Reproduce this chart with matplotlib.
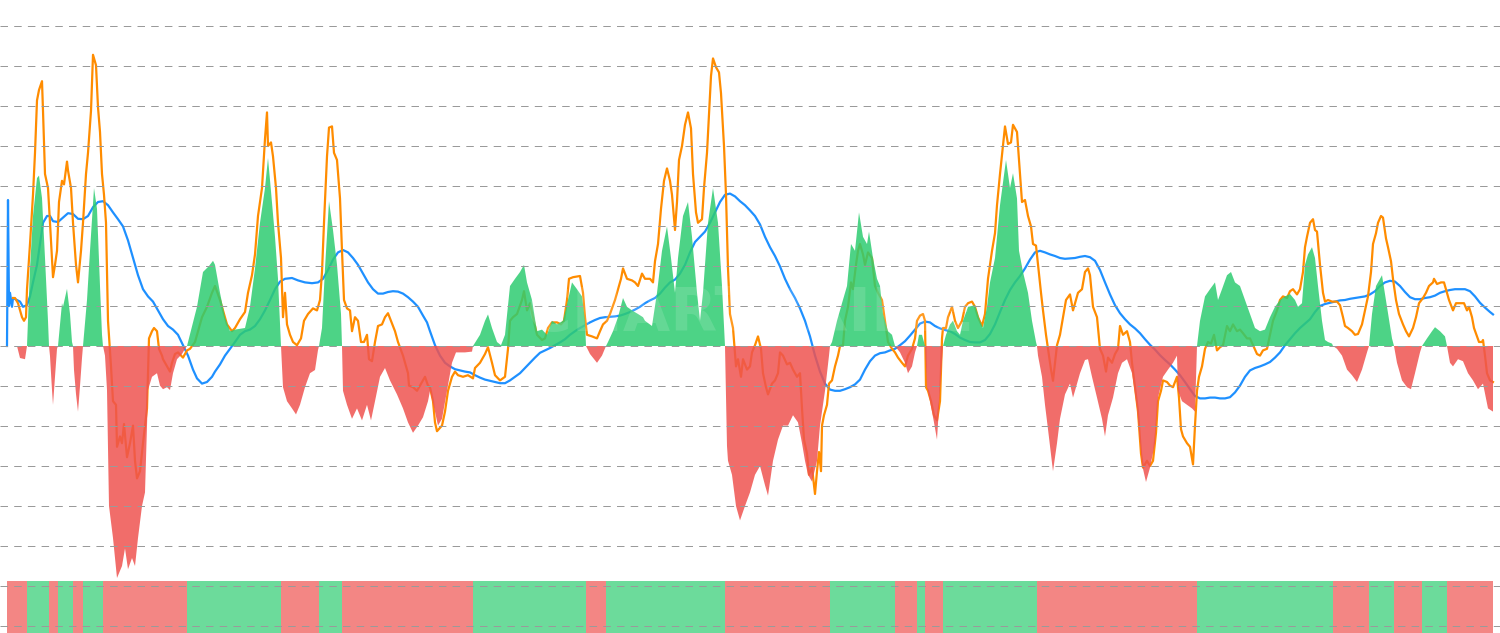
import numpy as np
import matplotlib
matplotlib.use('Agg')
import matplotlib.pyplot as plt

# ── data (bar index, value) ──────────────────────────────────────────────────
hist_x = [7, 17, 20, 25, 27, 30, 33, 37, 39, 42, 45, 48, 49,
          50, 52, 53, 55, 57, 58, 62, 63, 67, 70, 72, 73,
          74, 76, 78, 80, 82, 83, 87, 90, 94, 97, 100, 102, 103,
          105, 107, 109, 113, 117, 122, 125, 128, 132, 135, 138, 142, 145, 147, 148,
          152, 157, 160, 163, 167, 170, 173, 177, 182, 185, 187,
          197, 203, 209, 213, 215, 220, 225, 230, 235, 245, 250, 255, 260, 265, 268,
          271, 275, 278, 281,
          283, 287, 292, 296, 300, 305, 310, 315, 318, 319,
          322, 325, 329, 333, 337, 341, 342,
          343, 347, 352, 357, 362, 367, 371, 375, 380, 385, 390, 397, 403, 408, 413,
          418, 423, 428, 430, 435, 438, 442, 447, 452, 456, 465, 472, 473,
          480, 485, 488, 492, 497, 501, 505, 510, 515, 520, 524, 527, 532, 537, 542,
          547, 552, 557, 563, 568, 572, 577, 582, 585, 586,
          590, 597, 602, 606,
          608, 613, 618, 623, 627, 632, 638, 643, 645, 652, 657, 662, 667, 671, 675,
          678, 683, 688, 692, 697, 700, 703, 708, 713, 718, 722, 725,
          727, 728, 732, 736, 740, 745, 750, 755, 760, 765, 768, 773, 778, 783, 788,
          793, 798, 802, 805, 808, 812, 817, 820, 825, 829, 830,
          832, 837, 842, 847, 851, 855, 859, 863, 867, 869, 873, 877, 880, 883, 888,
          892, 895,
          900, 905, 908, 912, 915, 917,
          919, 922, 925,
          927, 930, 934, 937, 940, 943,
          946, 950, 953, 957, 960, 963, 968, 975, 980, 983, 987, 990, 995, 1000, 1006,
          1010, 1013, 1017, 1019, 1023, 1028, 1032, 1036, 1037,
          1038, 1042, 1045, 1048, 1053, 1057, 1060, 1065, 1070, 1073, 1075, 1080, 1085,
          1088, 1092, 1097, 1102, 1105, 1108, 1113, 1118, 1122, 1127, 1132, 1137, 1142,
          1146, 1150, 1155, 1158, 1163, 1168, 1173, 1177, 1178, 1182, 1187, 1192, 1195,
          1197,
          1200, 1205, 1210, 1215, 1218, 1222, 1227, 1231, 1235, 1240, 1245, 1250, 1255,
          1260, 1265, 1270, 1275, 1280, 1285, 1290, 1295, 1298, 1302, 1305, 1308, 1312,
          1315, 1318, 1322, 1325, 1328, 1332, 1333,
          1337, 1342, 1347, 1352, 1357, 1362, 1367, 1369,
          1372, 1376, 1382, 1387, 1392, 1394,
          1397, 1402, 1407, 1411, 1415, 1420, 1422,
          1427, 1432, 1435, 1440, 1445, 1447,
          1450, 1453, 1458, 1463, 1468, 1473, 1478, 1483, 1488, 1493]
hist_v = [0, 0, -3, -3.3, 0, 19.4, 32.5, 42, 42.6, 37, 22, 6.3, 0,
          -2.5, -11, -14.7, -7.7, -0.7, 0, 10.7, 9.8, 14.3, 8, 1, 0,
          -6, -12, -16.4, -10, -3, 0, 11.5, 23.8, 39.5, 34.3, 15, 2.8, 0,
          -2.4, -11, -40, -48, -58, -55, -50.6, -55.8, -53, -55, -48, -40, -36.6, -20, -11,
          -7.7, -6.8, -9.9, -10.8, -10.3, -11, -6.8, -3.3, -2, -0.7, 0,
          9.8, 18.5, 20, 21.3, 20.3, 13.3, 7.2, 3.7, 4.1, 4.5, 9.8, 19.4, 30.8, 39.5, 47,
          38.7, 27.3, 16.8, 0,
          -10.3, -13.8, -15.6, -17.1, -14.7, -10.3, -6.8, -6, -1, 0,
          4.5, 19.4, 36.2, 29, 20.3, 8, 0,
          -11.2, -14.7, -18.2, -15.6, -18.6, -14.7, -18.6, -13.8, -7.7, -5.5, -8.6, -12.1, -15.6, -19.1, -21.7,
          -19.9, -17.8, -13.8, -11.2, -16.4, -19.9, -18.2, -11.2, -4.2, -1.6, -1.6, -1.4, 0,
          2.8, 6.3, 7.9, 4.5, 1, 0.2, 2.8, 15, 16.8, 18.5, 20.3, 15.9, 11.5, 3.7, 4.1,
          2.8, 6.3, 5.4, 6.3, 11.5, 15.9, 14.2, 12.4, 6.3, 0,
          -2, -4.2, -2.4, 0,
          1, 3.7, 7.2, 12, 9.8, 8.9, 8, 7.2, 6.3, 5, 13.3, 23.8, 29.9, 22, 13.3,
          22, 32.5, 36, 27.3, 13.3, 6.3, 13.3, 30.8, 39.5, 30.8, 15, 0,
          -25, -28.7, -32.2, -40, -43.6, -40, -36.6, -32.2, -30, -34.8, -37.4, -28.7, -23.4, -19.9, -19.9,
          -17.3, -19.1, -24.3, -28.7, -32.2, -33.9, -28.7, -19.9, -11.2, -2.4, 0,
          1, 6.3, 10.7, 15, 25.5, 23.8, 33.4, 27.3, 25.5, 28.6, 22, 16.8, 15, 8, 3.7,
          2.8, 0,
          -1.6, -4.2, -6.8, -5.1, -1.6, 0,
          2.8, 2.8, 0,
          -10.3, -13.8, -19.1, -23.4, -11.2, 0,
          2.8, 5.4, 6.3, 3.7, 2.8, 6.3, 9.8, 10.2, 6.3, 4.5, 9.8, 15.9, 22, 35.2, 46.5,
          39.5, 43.2, 36.9, 23.8, 18.5, 13.3, 6.3, 1, 0,
          -2.4, -7.7, -14.7, -20.8, -31.3, -24.3, -18.2, -12.1, -9.4, -12.9, -11.2, -6.8, -3.5,
          -3.3, -7.7, -12.9, -18.2, -22.6, -17.3, -12.9, -6.8, -4.2, -3.3, -6.8, -15.6, -29.6,
          -34, -30.4, -24.3, -12.9, -7.7, -5.9, -4.2, -2.4, -11.2, -13.8, -14.7, -15.6, -16.4,
          0,
          6.3, 12.4, 14.2, 15.9, 11.5, 14.2, 17.7, 18.5, 15.9, 15, 11.5, 8, 4.5,
          3.7, 4.1, 7.2, 9.8, 11.5, 12.4, 13, 11.5, 9.8, 10.7, 20.3, 22.9, 24.7,
          22, 15, 6.3, 1.5, 1, 0.6, 0,
          -0.7, -2.4, -5.9, -7.3, -9, -5.9, -1.6, 0,
          8, 15, 17.7, 9.8, 1.9, 0,
          -4.2, -8.6, -10.3, -10.8, -6.8, -1.6, 0,
          1.9, 3.7, 4.7, 3.7, 2.4, 0,
          -4.2, -5.1, -3.3, -3.8, -6.8, -8.6, -10.8, -9.4, -15.6, -16.4]

fast_x = [13, 15, 18, 22, 24, 26, 27, 30, 33, 35, 37, 39, 42, 43, 45, 48, 50, 53, 55, 57,
          59, 62, 64, 67, 68, 71, 73, 76, 78, 81, 83, 86, 88, 91, 93, 96, 98, 100, 102,
          104, 106, 108, 111, 113, 116, 117, 120, 122, 124, 127, 130, 133, 135, 137, 140,
          143, 147, 149, 152, 154, 157, 159, 162, 163, 167, 170, 172, 175, 178, 183, 187,
          190, 195, 198, 202, 207, 212, 215, 220, 227, 232, 235, 240, 245, 248, 252, 255,
          258, 262, 265, 267, 268, 271, 273, 276, 278, 281, 283, 285, 287, 290, 293, 297,
          301, 304, 308, 313, 317, 320, 322, 324, 327, 329, 332, 334, 337, 340, 342, 344,
          347, 350, 352, 355, 358, 361, 364, 367, 369, 372, 375, 378, 382, 385, 388, 391,
          395, 398, 403, 408, 409, 413, 417, 422, 425, 428, 430, 433, 435, 437, 442, 445,
          448, 452, 455, 458, 463, 468, 473, 475, 480, 485, 488, 492, 495, 500, 505, 508,
          510, 513, 517, 522, 524, 527, 530, 533, 537, 542, 545, 548, 552, 557, 561, 564,
          567, 569, 573, 580, 583, 585, 587, 592, 597, 600, 603, 607, 610, 615, 618, 621,
          623, 627, 632, 635, 638, 642, 645, 650, 653, 655, 658, 661, 664, 667, 670, 672,
          675, 677, 679, 682, 685, 688, 691, 693, 696, 698, 702, 704, 707, 709, 711, 713,
          716, 719, 721, 722, 724, 726, 728, 730, 733, 736, 738, 741, 743, 747, 750, 752,
          755, 758, 761, 763, 766, 768, 772, 775, 778, 780, 783, 787, 790, 793, 797, 800,
          802, 804, 807, 809, 812, 815, 817, 819, 821, 822, 824, 827, 829, 832, 835, 838,
          840, 843, 845, 848, 851, 853, 856, 858, 860, 863, 865, 868, 872, 875, 878, 882,
          885, 888, 892, 895, 898, 902, 905, 908, 912, 915, 917, 920, 923, 925, 926, 928,
          931, 934, 937, 940, 942, 943, 946, 948, 952, 955, 958, 962, 965, 968, 972, 975,
          978, 982, 985, 988, 992, 995, 997, 1000, 1003, 1005, 1008, 1011, 1013, 1017,
          1019, 1022, 1025, 1028, 1031, 1033, 1036, 1038, 1041, 1043, 1046, 1048, 1051,
          1053, 1055, 1057, 1060, 1063, 1066, 1070, 1073, 1075, 1078, 1082, 1085, 1088,
          1090, 1093, 1097, 1100, 1103, 1106, 1108, 1112, 1115, 1118, 1120, 1123, 1127,
          1130, 1132, 1135, 1138, 1141, 1143, 1147, 1150, 1153, 1156, 1158, 1161, 1163,
          1167, 1170, 1173, 1177, 1179, 1181, 1183, 1187, 1190, 1193, 1195, 1197, 1199,
          1202, 1205, 1208, 1211, 1214, 1217, 1220, 1223, 1227, 1230, 1233, 1237, 1240,
          1243, 1247, 1250, 1253, 1257, 1260, 1263, 1267, 1270, 1273, 1277, 1280, 1283,
          1287, 1290, 1293, 1297, 1300, 1303, 1305, 1307, 1310, 1313, 1315, 1317, 1320,
          1323, 1325, 1328, 1332, 1337, 1340, 1343, 1345, 1348, 1352, 1355, 1358, 1362,
          1365, 1368, 1371, 1373, 1376, 1378, 1381, 1383, 1386, 1388, 1391, 1393, 1396,
          1399, 1403, 1406, 1409, 1413, 1416, 1419, 1423, 1426, 1429, 1433, 1434, 1437,
          1441, 1444, 1447, 1449, 1453, 1456, 1460, 1464, 1467, 1469, 1472, 1474, 1477,
          1479, 1482, 1483, 1485, 1487, 1490, 1493]
fast_v = [12, 12, 10.7, 7.2, 6.3, 7.2, 14.2, 25.5, 37.8, 48.3, 61.4, 64, 66.2, 58.8, 43, 39.5,
          30.8, 17.2, 20.3, 23.8, 36, 41.3, 40.4, 46.1, 43.9, 39.5, 30.8, 20.3, 15.9, 23.8,
          30.8, 43, 48.3, 58.8, 72.8, 70.2, 59.7, 53.5, 43, 37.8, 30.8, 6.3, -5.1, -13.8,
          -14.7, -25.2, -22.6, -24.3, -19.5, -27.8, -24.3, -19.9, -28.7, -33.1, -31.3,
          -24.3, -15.6, 1.9, 3.7, 4.5, 3.7, -0.7, -2.4, -3.3, -5.1, -6.4, -4.2, -2, -1.6,
          -2.9, -1.1, -0.7, 1, 3.7, 7.2, 9.8, 13.3, 15, 11.5, 5.4, 3.7, 4.5, 6.7, 8.5,
          13.3, 17.7, 22.9, 32.5, 39.5, 51.8, 58.4, 50, 50.9, 47.4, 39.5, 30.8, 22, 7.2,
          13.3, 5.4, 2.8, 1, 0.2, 1.9, 6.3, 8, 9.4, 8.9, 11.5, 18.5, 30.8, 47.4, 54.6,
          54.9, 48.3, 46.5, 36.9, 23.8, 11.5, 9.4, 8.9, 3.7, 7.2, 6.3, 1, 1, 2.8, -3.3,
          -3.8, 1, 5, 5.4, 7.2, 8.2, 6.3, 3.7, 1, -2.4, -6.8, -9.9, -10.3, -11.2, -9,
          -7.7, -9.9, -10.3, -13.8, -19.1, -21.3, -19.9, -16.4, -11.2, -7.7, -6.4, -7.3,
          -7.7, -7.3, -8.1, -5.5, -4.2, -2, -0.3, -4.2, -7.3, -8.6, -7.7, -0.7, 6.3, 7.2,
          8, 11.5, 13.7, 8.9, 10.7, 7.2, 2.8, 1.5, 1.9, 4.5, 5.9, 5.9, 5.4, 6.3, 11.5,
          16.8, 17.2, 17.5, 13.3, 7.2, 2.8, 2.4, 1.9, 3.7, 5.4, 6.3, 8, 11.5, 14.2, 16.8,
          19.4, 16.8, 16.4, 15.9, 15, 18.1, 16.8, 16.8, 15.9, 21.2, 25.5, 34.3, 41.3,
          44.4, 41.3, 37.8, 29, 36, 46.5, 50, 55.3, 58.4, 54.4, 43, 33.4, 30.8, 31.7,
          39.5, 48.3, 57.9, 67.5, 71.9, 69.7, 68.4, 63.2, 58.8, 50, 37.8, 19.4, 8, 4.5,
          -5.1, -3.3, -7.7, -3.3, -5.9, -5.1, -1.6, 0.2, 2.4, -0.7, -6.8, -10.3, -12.1,
          -9.4, -8.6, -6.8, -1.6, -2.4, -4.6, -4.2, -5.9, -7.7, -6.8, -15.6, -23.4, -26.9,
          -32.2, -30.4, -37, -31.3, -26.5, -31.3, -19.9, -17.3, -14.7, -9.4, -8.6, -5.1,
          -2.4, 0, 0.2, 6.3, 9.8, 15.9, 14.2, 20.3, 23.8, 25.5, 22.9, 20.3, 23.4, 22,
          15, 13.3, 11.5, 6.3, 1, -0.7, -1.6, -2.9, -4.2, -5.1, -2.4, -0.7, 1.9, 6.3, 7.6,
          8, 6.3, -10.3, -11.2, -13.8, -17.3, -18.6, -13.8, 1.9, 4.5, 4.5, 7.2, 9.8, 6.3,
          4.5, 6.3, 9.8, 10.7, 11.1, 9.8, 7.2, 5, 8, 16.8, 23.8, 28.2, 35.2, 43, 50, 54.9,
          50.5, 50.9, 55.3, 53.5, 46.5, 36, 36.5, 32.5, 29.9, 25.5, 25.1, 20.3, 13.3, 8.9,
          2.8, -0.7, -5.9, -8.7, -4.2, 0.2, 2.8, 7.2, 11.5, 12.9, 8.9, 10.7, 13.3, 14.2,
          18.5, 19.4, 17.7, 9.8, 7.2, -0.7, -2.4, -6.4, -2.9, -4.2, -2, -0.7, 5, 2.8, 3.7,
          1, -4.2, -10.3, -16.4, -26.9, -30.4, -28.7, -30, -28.7, -21.7, -13.8, -11.2,
          -8.6, -9, -9.9, -10.3, -7.7, -12.9, -20.8, -22.6, -24.3, -25.2, -29.6, -19.9,
          -11.2, -7.7, -5.1, -0.7, 1, 0.6, 2.8, -1.1, -0.3, 0.2, 5, 3.7, 5.4, 3.7, 4.1,
          3.2, 1.9, 1.9, 0.2, -2, -2.4, -1.1, -0.7, 2.8, 6.3, 8.9, 11.5, 12.4, 12, 13.7,
          14.2, 12.9, 14.2, 18.5, 24.7, 27.3, 30.8, 31.7, 29, 28.6, 20.3, 13.3, 11.1,
          11.5, 11.1, 11.1, 10.2, 7.2, 5, 4.5, 3.7, 2.8, 3, 5.4, 8.9, 12.4, 18.5, 25.5,
          28.2, 30.8, 32.5, 32.1, 26.9, 24.7, 21.2, 16.8, 11.5, 8, 5.4, 3.7, 2.4, 4.5,
          7.2, 10.7, 12, 13.3, 15, 15.9, 16.8, 15.5, 15.9, 15.9, 13.3, 11.5, 8.9, 10.7,
          10.7, 10.7, 8.9, 9.8, 7.2, 4.5, 2.4, 1, 1, 1.5, -2.4, -6.8, -8.6, -9]

slow_x = [7, 8, 9, 10, 12, 13, 17, 20, 23, 27, 30, 33, 37, 40, 43, 47, 50, 53, 58, 63, 68,
          73, 78, 83, 88, 93, 98, 103, 108, 113, 118, 123, 128, 133, 138, 143, 148, 153,
          158, 163, 168, 173, 178, 183, 188, 193, 197, 202, 207, 212, 215, 220, 225, 230,
          235, 240, 245, 250, 255, 260, 265, 270, 275, 280, 285, 292, 298, 305, 312, 318,
          323, 328, 333, 338, 343, 348, 353, 358, 363, 368, 373, 378, 383, 388, 393, 398,
          403, 408, 413, 418, 423, 427, 430, 435, 440, 445, 450, 455, 460, 465, 470, 475,
          480, 485, 490, 495, 500, 505, 510, 515, 520, 525, 530, 535, 540, 545, 550, 555,
          560, 565, 570, 575, 580, 585, 590, 595, 600, 605, 610, 615, 620, 625, 630, 635,
          640, 645, 650, 655, 660, 665, 670, 675, 680, 685, 690, 695, 700, 705, 710, 715,
          720, 725, 730, 735, 740, 745, 750, 755, 760, 765, 770, 775, 780, 785, 790, 795,
          800, 805, 810, 815, 820, 825, 830, 835, 840, 845, 850, 855, 860, 865, 870, 875,
          880, 885, 890, 895, 900, 905, 910, 915, 920, 925, 930, 935, 940, 945, 950, 955,
          960, 965, 970, 975, 980, 985, 990, 995, 1000, 1005, 1010, 1015, 1020, 1025,
          1030, 1035, 1040, 1045, 1050, 1055, 1060, 1065, 1070, 1075, 1080, 1085, 1090,
          1095, 1100, 1105, 1110, 1115, 1120, 1125, 1130, 1135, 1140, 1145, 1150, 1155,
          1160, 1165, 1170, 1175, 1180, 1185, 1190, 1195, 1200, 1205, 1210, 1215, 1220,
          1225, 1230, 1235, 1240, 1245, 1250, 1255, 1260, 1265, 1270, 1275, 1280, 1285,
          1290, 1295, 1300, 1305, 1310, 1315, 1320, 1325, 1330, 1335, 1340, 1345, 1350,
          1355, 1360, 1365, 1370, 1375, 1380, 1385, 1390, 1395, 1400, 1405, 1410, 1415,
          1420, 1425, 1430, 1435, 1440, 1445, 1450, 1455, 1460, 1465, 1470, 1475, 1480,
          1485, 1490, 1493]
slow_v = [0, 36.5, 10, 13.3, 9.8, 12, 11.5, 11.1, 9.8, 10.2, 12.4, 15.9, 20.3, 25.5, 30.8,
          32.5, 32.5, 31.2, 31, 32.1, 33.2, 33, 31.8, 31.7, 32.5, 34.7, 36, 36.2, 35.2,
          33.4, 31.7, 29.9, 26.4, 22, 17.7, 14.2, 12.4, 11.1, 8.9, 6.7, 5, 4.1, 2.8, 0.2,
          -2.4, -5.9, -8.1, -9.4, -9, -7.7, -6.4, -4.6, -2.4, -0.7, 1, 2.8, 3.7, 4.1, 5,
          6.7, 8.9, 11.5, 14.2, 16.1, 16.8, 17, 16.4, 15.9, 15.7, 15.9, 16.8, 19, 21.6,
          23.4, 24, 23.4, 22, 20.3, 18.1, 15.9, 14.2, 13.1, 13.1, 13.5, 13.7, 13.6, 13.1,
          12.2, 11.1, 9.8, 7.6, 5.9, 3.7, 0.2, -2.4, -4.2, -5.1, -5.8, -6.1, -6.4, -6.6,
          -7.3, -7.9, -8.4, -8.7, -9, -9.3, -9.3, -8.6, -7.7, -6.8, -5.5, -4.2, -2.9, -1.7,
          -1.1, -0.5, 0.2, 0.9, 1.7, 2.8, 3.7, 4.5, 5.2, 5.9, 6.5, 7, 7.2, 7.3, 7.4, 7.6,
          8, 8.5, 9.1, 9.8, 10.7, 11.4, 12, 13.1, 14.6, 15.9, 16.6, 18.1, 20.3, 23.4, 26,
          27.3, 28.6, 30.8, 33.4, 36, 37.8, 38.1, 37.4, 36.2, 35.2, 33.9, 32.5, 30.4, 27.3,
          24.7, 22.5, 19.9, 16.8, 14.2, 12, 9.4, 6.3, 2.4, -2.4, -6.4, -9.4, -10.9, -11.2,
          -11.2, -10.8, -10.3, -9.6, -8.4, -5.9, -3.8, -2.4, -1.8, -1.6, -1.1, -0.7, 0.2,
          1.2, 2.6, 4.1, 5.6, 6.1, 5.9, 5, 4.4, 4, 3.7, 3, 2.1, 1.5, 1, 0.9, 0.9, 1.5, 3,
          5.4, 8.5, 11.5, 14, 15.9, 17.5, 19.4, 21.6, 23.4, 23.8, 23.4, 22.9, 22.5, 22,
          21.8, 21.9, 22, 22.3, 22.5, 22.2, 21.3, 19, 15.9, 12.9, 10.2, 8.2, 6.7, 5.4, 4.4,
          3.2, 1.7, 0.3, -0.9, -2.3, -3.5, -4.6, -5.9, -7.3, -9, -10.8, -12.5, -13.1,
          -13.1, -12.9, -12.9, -13.1, -13.1, -12.8, -11.6, -9.9, -7.7, -6.1, -5.5, -5.1,
          -4.6, -4, -2.9, -1.6, 0.2, 1.7, 3.2, 4.5, 5.6, 6.7, 8.5, 10, 10.5, 10.8, 11.1,
          11.4, 11.5, 11.8, 12, 12.2, 12.4, 12.9, 13.7, 15, 15.9, 16.3, 16.1, 15, 13.5,
          12.2, 11.7, 11.7, 12, 12.2, 12.6, 13.3, 13.7, 14, 14.2, 14.2, 14.2, 13.7, 12.4,
          10.8, 9.6, 8.5, 7.9]

GRID_LEVELS = list(range(-70, 81, 10))

# ── style ────────────────────────────────────────────────────────────────────
GREEN = '#2ECC71'
RED = '#EF5350'
ORANGE = '#FF8C00'
BLUE = '#1E90FF'
GRID = '#9a9a9a'

fig = plt.figure(figsize=(15, 6.33), dpi=100)
ax = fig.add_axes([0, 0, 1, 1])
ax.set_xlim(0, 1500)
ax.set_ylim(-71.75, 86.5)
ax.axis('off')

hx = np.array(hist_x, dtype=float)
hv = np.array(hist_v, dtype=float)

# lines sit underneath the translucent histogram
ax.plot(slow_x, slow_v, color=BLUE, lw=1.6, zorder=2, solid_joinstyle='round')
ax.plot(fast_x, fast_v, color=ORANGE, lw=1.6, zorder=3, solid_joinstyle='round')

ax.fill_between(hx, 0, hv, where=hv >= 0, interpolate=True, color=GREEN,
                alpha=0.85, lw=0, zorder=4)
ax.fill_between(hx, 0, hv, where=hv <= 0, interpolate=True, color=RED,
                alpha=0.85, lw=0, zorder=4)

# bottom state strip, coloured by histogram sign (flat zero counts as red)
seg_sign = (hv[:-1] + hv[1:]) > 0
strip_cols = [GREEN if s else RED for s in seg_sign]
ax.bar(hx[:-1], 14, width=np.diff(hx), bottom=-72.75, align='edge',
       color=strip_cols, alpha=0.7, lw=0, zorder=1)

for lv in GRID_LEVELS:
    ax.axhline(lv, color=GRID, lw=0.72, ls=(0, (7.5, 6.2)), zorder=5)

# faint watermark
ax.text(750, 8, 'CHARTPRIME', color='white', alpha=0.13, fontsize=44,
        fontweight='bold', ha='center', va='center', zorder=6)

fig.savefig('out.png', dpi=100, facecolor='white')
